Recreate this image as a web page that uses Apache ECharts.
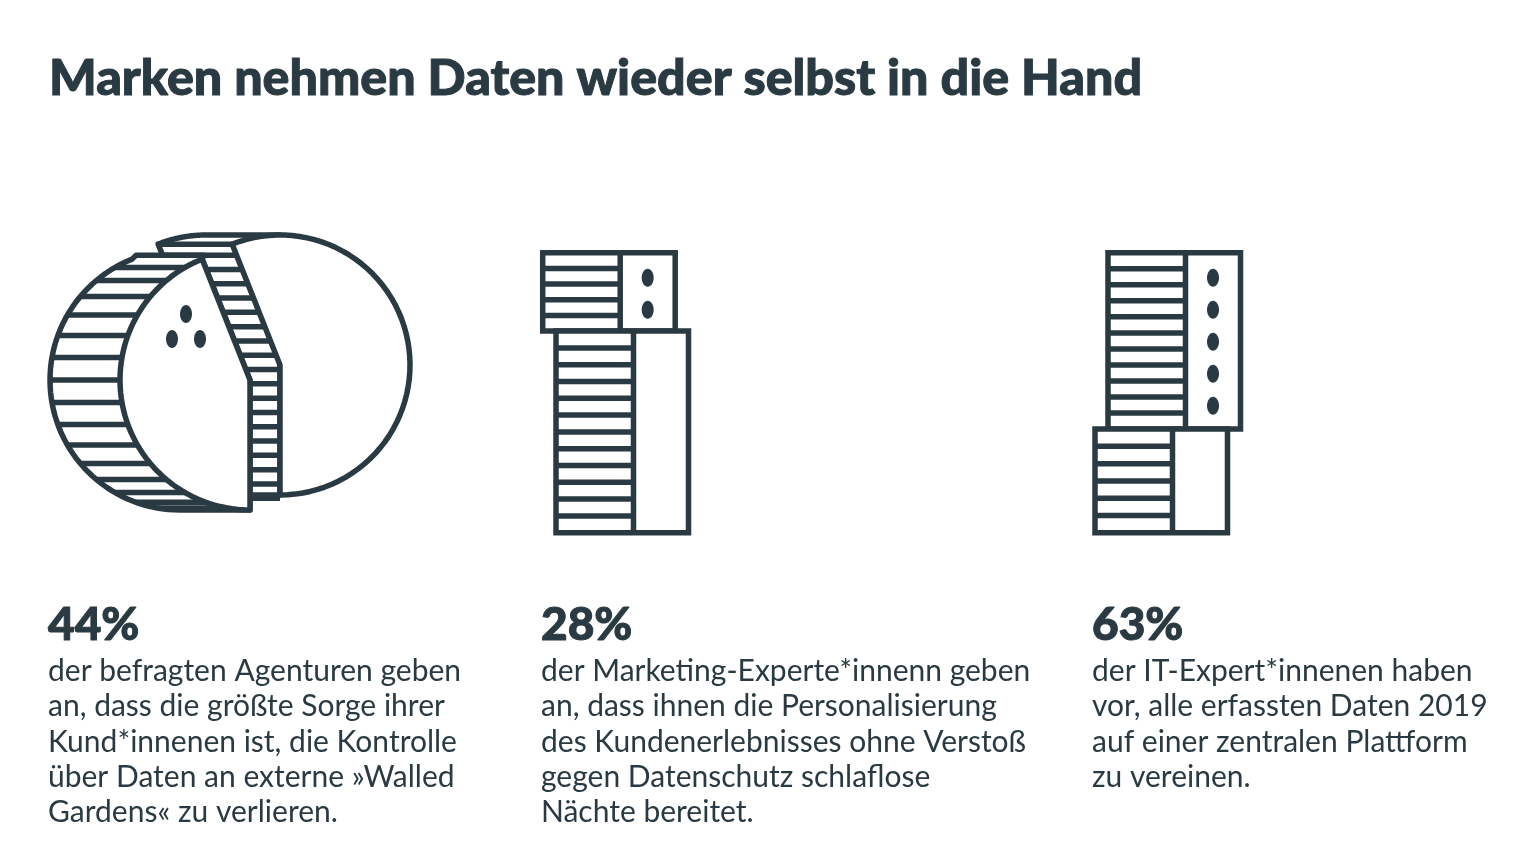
<!DOCTYPE html>
<html lang="de">
<head>
<meta charset="utf-8">
<title>Marken nehmen Daten wieder selbst in die Hand</title>
<script src="https://cdn.jsdelivr.net/npm/echarts@6/dist/echarts.min.js"></script>
<style>
    html, body { margin: 0; padding: 0; background: #fff; }
    #chart { width: 1536px; height: 864px; }
</style>
</head>
<body>
<div id="chart"></div>
<script>
// data
var titleText = 'Marken nehmen Daten wieder selbst in die Hand';
var agencyShares = [44, 56];
var marketingShares = [28, 72];
var itShares = [63, 37];
var dotCounts = [3, 2, 5];
var headlines = ['44%', '28%', '63%'];
var agencyLines = ['der befragten Agenturen geben', 'an, dass die größte Sorge ihrer', 'Kund*innenen ist, die Kontrolle', 'über Daten an externe »Walled', 'Gardens« zu verlieren.'];
var marketingLines = ['der Marketing-Experte*innenn geben', 'an, dass ihnen die Personalisierung', 'des Kundenerlebnisses ohne Verstoß', 'gegen Datenschutz schlaflose', 'Nächte bereitet.'];
var itLines = ['der IT-Expert*innenen haben', 'vor, alle erfassten Daten 2019', 'auf einer zentralen Plattform', 'zu vereinen.'];

var INK = '#2a3a42';
var LINE = 5.5;
var FONT = 'Lato, "Noto Sans", sans-serif';

var myChart = echarts.init(document.querySelector('#chart'));

function dot(api, x, y) {
    var c = api.coord([x, y]);
    return {
        type: 'ellipse',
        shape: { cx: c[0], cy: c[1], rx: 6, ry: 9 },
        style: { fill: INK }
    };
}

function hline(x1, x2, y) {
    return {
        type: 'line',
        shape: { x1: x1, y1: y, x2: x2, y2: y },
        style: { stroke: INK, lineWidth: LINE }
    };
}

// pie module: two slices pushed apart, each with a striped depth towards the left
function renderPie(params, api) {
    var R = 130;
    var DEPTH = [-70, -74];
    var leftShare = agencyShares[0];
    var tipRad = (180 + leftShare * 3.6) * Math.PI / 180;
    var isLeft = params.dataIndex === 1;
    var cx = isLeft ? 0 : 30;
    var cy = isLeft ? 0 : -15;
    var depth = isLeft ? DEPTH[0] : DEPTH[1];

    function xy(x, y) {
        return api.coord([x, y]);
    }
    function rim(ox, rad) {
        return [cx + ox + R * Math.sin(rad), cy - R * Math.cos(rad)];
    }
    function arc(ox, fromRad, toRad) {
        var pts = [];
        for (var i = 0; i <= 60; i++) {
            var a = fromRad + (toRad - fromRad) * i / 60;
            pts.push(rim(ox, a));
        }
        return pts;
    }
    function toPx(list) {
        return list.map(function(p) { return xy(p[0], p[1]); });
    }
    function poly(list, fill, stroke) {
        return {
            type: 'polygon',
            shape: { points: toPx(list) },
            style: { fill: fill, stroke: stroke, lineWidth: LINE, lineJoin: 'round' }
        };
    }
    // left limit of a slice's outline at height y
    function edgeX(y, ox) {
        var tip = rim(0, tipRad);
        var dy = y - cy;
        if (isLeft) {
            return cx + ox - Math.sqrt(Math.max(0, R * R - dy * dy));
        }
        if (y < tip[1]) {
            return cx + ox - Math.sqrt(Math.max(0, R * R - dy * dy));
        }
        if (y < cy) {
            return cx + ox + (tip[0] - cx) * (cy - y) / (cy - tip[1]);
        }
        return cx + ox;
    }

    var children = [];
    var face;
    if (isLeft) {
        var tip = rim(0, tipRad);
        var backTip = rim(depth, tipRad);
        var lip = tip[1] - 4;
        // depth silhouette
        var shell = arc(depth, Math.PI, tipRad);
        shell.push([backTip[0] + 4, lip]);
        shell.push([tip[0] + 2, lip]);
        shell.push(tip);
        shell.push([cx, cy]);
        shell.push([cx, cy + R]);
        children.push(poly(shell, '#fff', INK));
        // stripes sit at equal angles round the cylinder
        for (var k = -6; k <= 8; k++) {
            var y = cy + R * Math.sin(k * 10 * Math.PI / 180);
            children.push(hline(xy(edgeX(y, depth), y)[0], xy(edgeX(y, 0), y)[0], xy(0, y)[1]));
        }
        face = arc(0, Math.PI, tipRad);
        face.push([cx, cy]);
        children.push(poly(face, '#fff', INK));
        var dots = [[-64, -66], [-78, -41], [-50, -41]];
        for (var d = 0; d < dotCounts[0]; d++) {
            children.push(dot(api, dots[d][0], dots[d][1]));
        }
    } else {
        var rTip = rim(0, tipRad);
        var rBack = rim(depth, tipRad);
        var rShell = arc(depth, tipRad, Math.PI * 2);
        rShell.push([cx, cy - R]);
        rShell.push([cx, cy]);
        rShell.push([cx, cy + R]);
        rShell.push([cx + depth, cy + R]);
        rShell.push([cx + depth, cy]);
        children.push(poly(rShell, '#fff', INK));
        var ys = [rBack[1]];
        for (var s = 0; s < 18; s++) {
            ys.push(rTip[1] + 11 + s * 14.3);
        }
        ys.forEach(function(sy) {
            children.push(hline(xy(edgeX(sy, depth), sy)[0], xy(edgeX(sy, 0), sy)[0], xy(0, sy)[1]));
        });
        var rFace = arc(0, tipRad, Math.PI * 3);
        rFace.push([cx, cy]);
        children.push(poly(rFace, '#fff', INK));
    }
    return { type: 'group', children: children };
}

// stacked block module: striped left part, plain right part, dots in the share block
function blockRenderer(offsets, dotCount, shares) {
    return function(params, api) {
        var WIDTH = 132.5;
        var DIVIDE = 77.5;
        var i = params.dataIndex;
        var start = 0;
        for (var n = 0; n < i; n++) {
            start += shares[n];
        }
        var end = start + api.value(0);
        var tl = api.coord([offsets[i], start]);
        var br = api.coord([offsets[i] + WIDTH, end]);
        var midX = api.coord([offsets[i] + DIVIDE, start])[0];
        var h = br[1] - tl[1];
        var cells = Math.round(h / 16.5);
        var children = [{
            type: 'rect',
            shape: { x: tl[0], y: tl[1], width: br[0] - tl[0], height: h },
            style: { fill: '#fff', stroke: INK, lineWidth: LINE }
        }, {
            type: 'line',
            shape: { x1: midX, y1: tl[1], x2: midX, y2: br[1] },
            style: { stroke: INK, lineWidth: LINE }
        }];
        for (var c = 1; c < cells; c++) {
            children.push(hline(tl[0], midX, tl[1] + h * c / cells));
        }
        if (i === 0) {
            var dotX = (midX + br[0]) / 2;
            for (var d = 0; d < dotCount; d++) {
                children.push({
                    type: 'ellipse',
                    shape: { cx: dotX, cy: tl[1] + 25 + d * 32, rx: 6, ry: 9 },
                    style: { fill: INK }
                });
            }
        }
        return { type: 'group', children: children };
    };
}

function textItem(text, x, y, size, weight, thicken) {
    return {
        type: 'text',
        x: x,
        y: y,
        style: {
            text: text,
            fill: INK,
            stroke: thicken ? INK : null,
            lineWidth: thicken || 0,
            font: weight + ' ' + size + 'px ' + FONT,
            textAlign: 'left',
            textVerticalAlign: 'middle'
        }
    };
}

var texts = [];
var columns = [
    { x: 48, lines: agencyLines },
    { x: 541, lines: marketingLines },
    { x: 1092, lines: itLines }
];
columns.forEach(function(col, i) {
    texts.push(textItem(headlines[i], col.x, 625, 46, 900, 1));
    col.lines.forEach(function(line, n) {
        texts.push(textItem(line, col.x, 671.5 + n * 35.2, 30, 400));
    });
});
texts.push(textItem(titleText, 49, 78.5, 50.2, 900, 1));

function hiddenAxis(index, min, max, inverse) {
    return { type: 'value', gridIndex: index, min: min, max: max, inverse: inverse, show: false };
}

var option = {
    animation: false,
    backgroundColor: '#fff',
    grid: [
        { left: 40, top: 225, width: 380, height: 295 },
        { left: 542.7, top: 252.7, width: 146, height: 280 },
        { left: 1095, top: 252.7, width: 146, height: 280 }
    ],
    xAxis: [hiddenAxis(0, -210, 170, false), hiddenAxis(1, 0, 146, false), hiddenAxis(2, 0, 146, false)],
    yAxis: [hiddenAxis(0, -155, 140, true), hiddenAxis(1, 0, 100, true), hiddenAxis(2, 0, 100, true)],
    graphic: texts,
    series: [{
        type: 'custom',
        xAxisIndex: 0,
        yAxisIndex: 0,
        clip: false,
        renderItem: renderPie,
        data: agencyShares.slice().reverse().map(function(v) { return [v]; })
    }, {
        type: 'custom',
        xAxisIndex: 1,
        yAxisIndex: 1,
        clip: false,
        renderItem: blockRenderer([0, 13.3], dotCounts[1], marketingShares),
        data: marketingShares.map(function(v) { return [v]; })
    }, {
        type: 'custom',
        xAxisIndex: 2,
        yAxisIndex: 2,
        clip: false,
        renderItem: blockRenderer([13, 0], dotCounts[2], itShares),
        data: itShares.map(function(v) { return [v]; })
    }]
};
myChart.setOption(option);
</script>
</body>
</html>
